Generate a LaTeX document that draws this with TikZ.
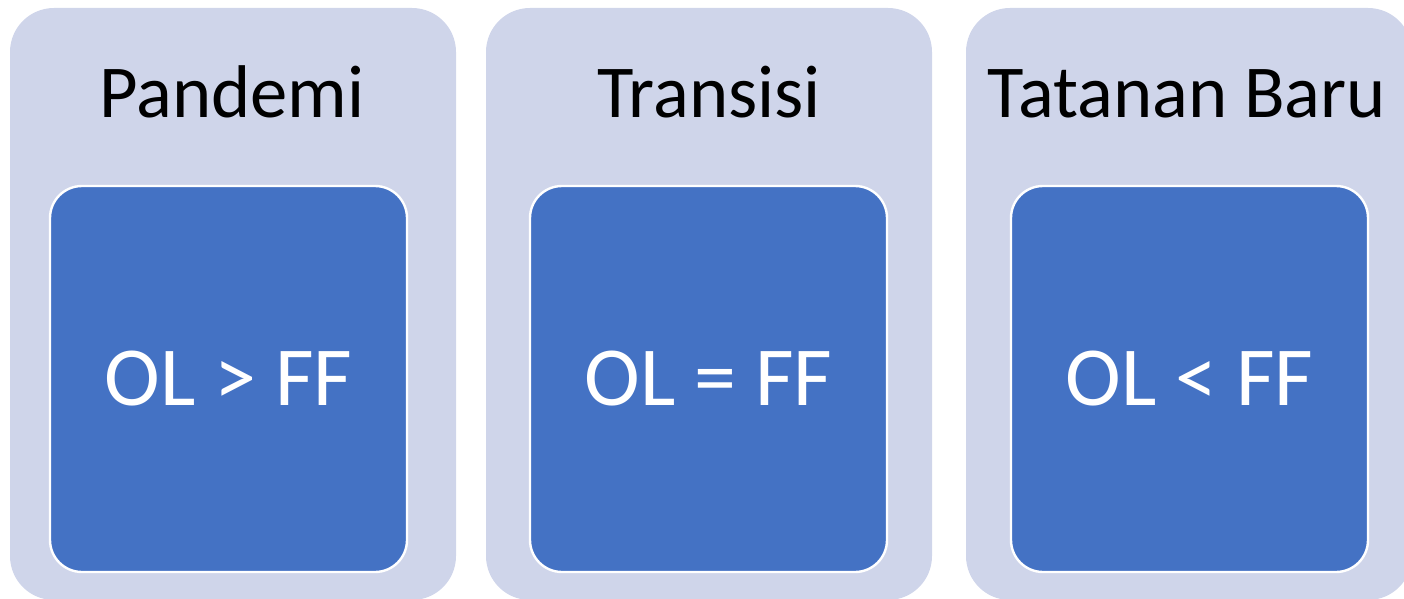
\documentclass[tikz,border=0pt]{standalone}
\usepackage{fontspec}
\setmainfont{Carlito}
\usetikzlibrary{positioning}
\definecolor{lav}{HTML}{CFD5EA}
\definecolor{ratioblue}{HTML}{4472C4}

\begin{document}
\begin{tikzpicture}[
            x=0.75pt,y=-0.75pt,
            panel/.style={fill=lav,rounded corners=33pt,inner sep=0pt,
                minimum width=334.5pt,minimum height=444pt},
            ratiobox/.style={fill=ratioblue,draw=white,line width=1.8pt,
                rounded corners=24pt,inner sep=0pt,
                minimum width=267.75pt,minimum height=289.5pt,
                text=white,font=\fontsize{63}{66}\selectfont},
            phase/.style={anchor=base,inner sep=0pt,font=\fontsize{56}{60}\selectfont}
        ]
            \useasboundingbox (0,0) rectangle (1404,599);
            \foreach \cx/\bx/\tx/\name/\rel [count=\i] in {
                233/228.5/232/Pandemi/{OL > FF},
                709/708.5/709/Transisi/{OL = FF},
                1189/1189.5/1187/Tatanan Baru/{OL < FF}
            } {
                \node [panel] (panel-\i) at (\cx,304) {};
                \node [phase] (phase-\i) at (\tx,118) {\name};
                \node [ratiobox] (ratio-\i) at (\bx,379) {\rel};
            }
        \end{tikzpicture}
\end{document}
